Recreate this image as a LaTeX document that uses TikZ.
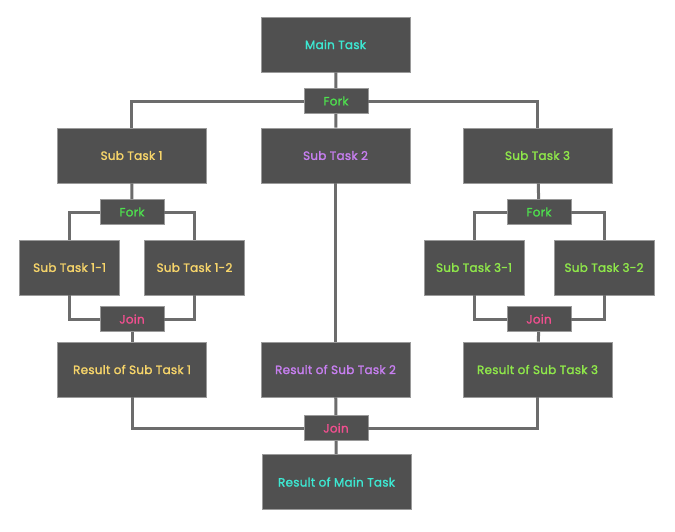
\documentclass[tikz,border=0pt]{standalone}
\usepackage{fontspec}
\setmainfont{Poppins}
\newfontfamily\taskfont{Poppins}[FakeBold=1.5, LetterSpace=2]
\definecolor{boxfill}{HTML}{505050}
\definecolor{boxline}{HTML}{9A9A9A}
\definecolor{wire}{HTML}{6C6C6C}
\definecolor{tcyan}{HTML}{3DE8D2}
\definecolor{tgreen}{HTML}{4EE04E}
\definecolor{tyellow}{HTML}{F7D56A}
\definecolor{tpurple}{HTML}{C77FF0}
\definecolor{tlime}{HTML}{8FE84A}
\definecolor{tpink}{HTML}{F04F8F}
\begin{document}
\begin{tikzpicture}[x=1pt, y=-1pt,
  task/.style={draw=boxline, line width=0.6pt, fill=boxfill, minimum width=149pt, minimum height=55pt, font=\taskfont\fontsize{12}{14}\selectfont, inner sep=0pt},
  small/.style={task, minimum width=100pt},
  gate/.style={task, minimum width=64pt, minimum height=25pt},
  wire/.style={draw=wire, line width=3pt}]
  \useasboundingbox (0, 0) rectangle (675, 531);

  \node[task, text=tcyan] (main) at (335.5, 44.5) {Main Task};

  \node[gate, text=tgreen] (fork) at (336, 101) {Fork};

  \node[task, text=tyellow] (sub1) at (131.5, 155.5) {Sub Task 1};

  \node[task, text=tpurple] (sub2) at (335.5, 155.5) {Sub Task 2};

  \node[task, text=tlime] (sub3) at (537.5, 155.5) {Sub Task 3};

  \node[gate, text=tgreen] (fork1) at (132, 212) {Fork};

  \node[small, text=tyellow] (sub11) at (69.5, 267.5) {Sub Task 1-1};

  \node[small, text=tyellow] (sub12) at (194.5, 267.5) {Sub Task 1-2};

  \node[gate, text=tpink] (join1) at (132, 319) {Join};

  \node[gate, text=tgreen] (fork3) at (539, 212) {Fork};

  \node[small, text=tlime] (sub31) at (474, 267.5) {Sub Task 3-1};

  \node[small, text=tlime] (sub32) at (604, 267.5) {Sub Task 3-2};

  \node[gate, text=tpink] (join3) at (539, 319) {Join};

  \node[task, text=tyellow] (res1) at (132, 369.5) {Result of Sub Task 1};

  \node[task, text=tpurple] (res2) at (335.5, 369.5) {Result of Sub Task 2};

  \node[task, text=tlime] (res3) at (537.5, 369.5) {Result of Sub Task 3};

  \node[gate, text=tpink] (join) at (336, 428) {Join};

  \node[task, text=tcyan] (result) at (336.5, 482) {Result of Main Task};

  \draw[wire] (main) -- (fork);
  \draw[wire] (fork) -| (sub1);
  \draw[wire] (fork) -- (sub2);
  \draw[wire] (fork) -| (sub3);

  \draw[wire] (sub1) -- (fork1);
  \draw[wire] (fork1) -| (sub11);
  \draw[wire] (fork1) -| (sub12);
  \draw[wire] (sub11) |- (join1);
  \draw[wire] (sub12) |- (join1);
  \draw[wire] (join1) -- (res1);

  \draw[wire] (sub2) -- (res2);

  \draw[wire] (sub3) -- (fork3);
  \draw[wire] (fork3) -| (sub31);
  \draw[wire] (fork3) -| (sub32);
  \draw[wire] (sub31) |- (join3);
  \draw[wire] (sub32) |- (join3);
  \draw[wire] (join3) -- (res3);

  \draw[wire] (res1) |- (join);
  \draw[wire] (res2) -- (join);
  \draw[wire] (res3) |- (join);
  \draw[wire] (join) -- (result);
\end{tikzpicture}
\end{document}
